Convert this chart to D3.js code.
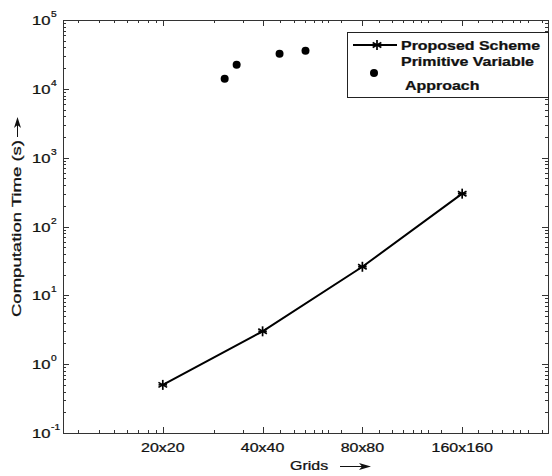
<!DOCTYPE html>
<html>
<head>
<meta charset="utf-8">
<script src="https://cdn.jsdelivr.net/npm/d3@7"></script>
<style>
  html, body { margin: 0; padding: 0; background: #fff; }
  svg { display: block; }
  text { font-family: "Liberation Sans", Arial, sans-serif; fill: #111; stroke: #111; stroke-width: 0.25px; }
</style>
</head>
<body>
<svg id="chart" width="552" height="476"></svg>
<script>
// ---------------- data ----------------
const gridLabels = ["20x20", "40x40", "80x80", "160x160"];
const gridIndex = [1, 2, 3, 4];
const proposedTime = [0.5, 3.0, 26, 300];

const primitiveIndex = [1.62, 1.74, 2.17, 2.43];
const primitiveTime = [14000, 22300, 32300, 35700];

const xMinorTicks = [0.15, 0.36, 0.51, 0.64, 0.75, 0.85, 0.93,
  1.51, 1.80,
  2.17, 2.31, 2.42, 2.52, 2.60, 2.66, 2.79,
  3.17, 3.30, 3.41, 3.51, 3.59, 3.66, 3.79,
  4.16, 4.30, 4.40, 4.51, 4.58, 4.66, 4.80];
const yMajorExponents = [-1, 0, 1, 2, 3, 4, 5];
const legendLabels = ["Proposed Scheme", "Primitive Variable", "Approach"];
const xTitle = "Grids";
const yTitle = "Computation Time (s)";

// ---------------- layout ----------------
const L = 63, R = 548, T = 20, B = 433;
const SX = 1.33; // horizontal text stretch
const axisColor = "#333";

const svg = d3.select("#chart");
const x = d3.scaleLinear().domain([0, 4.86]).range([L, R]);
const y = d3.scaleLog().domain([0.1, 1e5]).range([B, T]);

function stext(g, px, py, str, opts = {}) {
  const t = g.append("text")
    .attr("transform", `translate(${px},${py}) scale(${opts.sx || SX},1)`)
    .attr("font-size", opts.size || 12)
    .attr("text-anchor", opts.anchor || "start")
    .text(str);
  if (opts.weight) t.attr("font-weight", opts.weight);
  return t;
}

// y minor ticks
const yMinor = [];
for (let e = -1; e < 5; e++) for (let k = 2; k <= 9; k++) yMinor.push(k * Math.pow(10, e));
const yMajor = yMajorExponents.map(e => Math.pow(10, e));

const axes = svg.append("g").attr("stroke", axisColor).attr("stroke-width", 1).attr("shape-rendering", "crispEdges");

// left & right axes
axes.selectAll(".ylmaj").data(yMajor).join("line")
  .attr("x1", L).attr("x2", L + 6).attr("y1", d => Math.round(y(d)) + 0.5).attr("y2", d => Math.round(y(d)) + 0.5);
axes.selectAll(".ylmin").data(yMinor).join("line")
  .attr("x1", L).attr("x2", L + 3).attr("y1", d => Math.round(y(d)) + 0.5).attr("y2", d => Math.round(y(d)) + 0.5);
axes.selectAll(".yrmaj").data(yMajor).join("line")
  .attr("x1", R).attr("x2", R - 6).attr("y1", d => Math.round(y(d)) + 0.5).attr("y2", d => Math.round(y(d)) + 0.5);
axes.selectAll(".yrmin").data(yMinor).join("line")
  .attr("x1", R).attr("x2", R - 3).attr("y1", d => Math.round(y(d)) + 0.5).attr("y2", d => Math.round(y(d)) + 0.5);

// top & bottom axes
axes.selectAll(".xbmaj").data(gridIndex).join("line")
  .attr("y1", B).attr("y2", B - 6).attr("x1", d => Math.round(x(d)) + 0.5).attr("x2", d => Math.round(x(d)) + 0.5);
axes.selectAll(".xbmin").data(xMinorTicks).join("line")
  .attr("y1", B).attr("y2", B - 3).attr("x1", d => Math.round(x(d)) + 0.5).attr("x2", d => Math.round(x(d)) + 0.5);
axes.selectAll(".xtmaj").data(gridIndex).join("line")
  .attr("y1", T).attr("y2", T + 6).attr("x1", d => Math.round(x(d)) + 0.5).attr("x2", d => Math.round(x(d)) + 0.5);
axes.selectAll(".xtmin").data(xMinorTicks).join("line")
  .attr("y1", T).attr("y2", T + 3).attr("x1", d => Math.round(x(d)) + 0.5).attr("x2", d => Math.round(x(d)) + 0.5);

// frame
svg.append("rect").attr("x", L + 0.5).attr("y", T + 0.5).attr("width", R - L).attr("height", B - T)
  .attr("fill", "none").attr("stroke", axisColor).attr("stroke-width", 1.2).attr("shape-rendering", "crispEdges");

// y tick labels
const ylab = svg.append("g");
yMajorExponents.forEach(e => {
  const py = y(Math.pow(10, e));
  stext(ylab, 32, py + 5, "10", { size: 12.5 });
  stext(ylab, 51, py - 3, String(e), { size: 8.5, sx: 1.2 });
});

// x tick labels
const xlab = svg.append("g");
gridIndex.forEach((d, i) => {
  stext(xlab, x(d), 452, gridLabels[i], { anchor: "middle" });
});

// x title with arrow
stext(svg, 290, 470, xTitle, {});
svg.append("line").attr("x1", 340).attr("x2", 364).attr("y1", 466.5).attr("y2", 466.5)
  .attr("stroke", "#111").attr("stroke-width", 1);
svg.append("path").attr("d", "M359,463 L371,466.5 L359,470 L362,466.5 Z").attr("fill", "#111");

// y title with arrow
svg.append("text")
  .attr("transform", "translate(21,317) rotate(-90)")
  .attr("font-size", 12)
  .attr("textLength", 177).attr("lengthAdjust", "spacingAndGlyphs")
  .text(yTitle);
svg.append("line").attr("x1", 17.5).attr("x2", 17.5).attr("y1", 137).attr("y2", 124)
  .attr("stroke", "#111").attr("stroke-width", 1);
svg.append("path").attr("d", "M14,128 L17.5,117 L21,128 L17.5,125 Z").attr("fill", "#111");

// star marker
function star(g, cx, cy, s) {
  const p = g.append("g").attr("transform", `translate(${cx},${cy})`).attr("stroke", "#000").attr("stroke-width", 1.7);
  [0, 60, 120].forEach(a => {
    const r = a * Math.PI / 180;
    p.append("line").attr("x1", -s * Math.sin(r)).attr("y1", -s * Math.cos(r))
      .attr("x2", s * Math.sin(r)).attr("y2", s * Math.cos(r));
  });
  p.append("line").attr("x1", -s * 0.85).attr("x2", s * 0.85).attr("y1", 0).attr("y2", 0);
}

// proposed line
const pts = gridIndex.map((d, i) => [d, proposedTime[i]]);
svg.append("path").datum(pts)
  .attr("d", d3.line().x(d => x(d[0])).y(d => y(d[1])))
  .attr("fill", "none").attr("stroke", "#000").attr("stroke-width", 2);
const mk = svg.append("g");
pts.forEach(d => star(mk, x(d[0]), y(d[1]), 5));

// primitive dots
svg.append("g").selectAll("circle").data(primitiveIndex.map((d, i) => [d, primitiveTime[i]])).join("circle")
  .attr("cx", d => x(d[0])).attr("cy", d => y(d[1])).attr("r", 4).attr("fill", "#000");

// legend
const lg = svg.append("g");
lg.append("rect").attr("x", 347.5).attr("y", 32.5).attr("width", 201).attr("height", 65)
  .attr("fill", "#fff").attr("stroke", "#222").attr("stroke-width", 1).attr("shape-rendering", "crispEdges");
lg.append("line").attr("x1", 353).attr("x2", 397).attr("y1", 45).attr("y2", 45)
  .attr("stroke", "#000").attr("stroke-width", 2);
star(lg, 377, 45, 5);
stext(lg, 401, 49.5, legendLabels[0], { weight: "bold" });
lg.append("circle").attr("cx", 374).attr("cy", 73).attr("r", 4).attr("fill", "#000");
stext(lg, 401, 66, legendLabels[1], { weight: "bold" });
stext(lg, 405, 90, legendLabels[2], { weight: "bold" });
</script>
</body>
</html>
